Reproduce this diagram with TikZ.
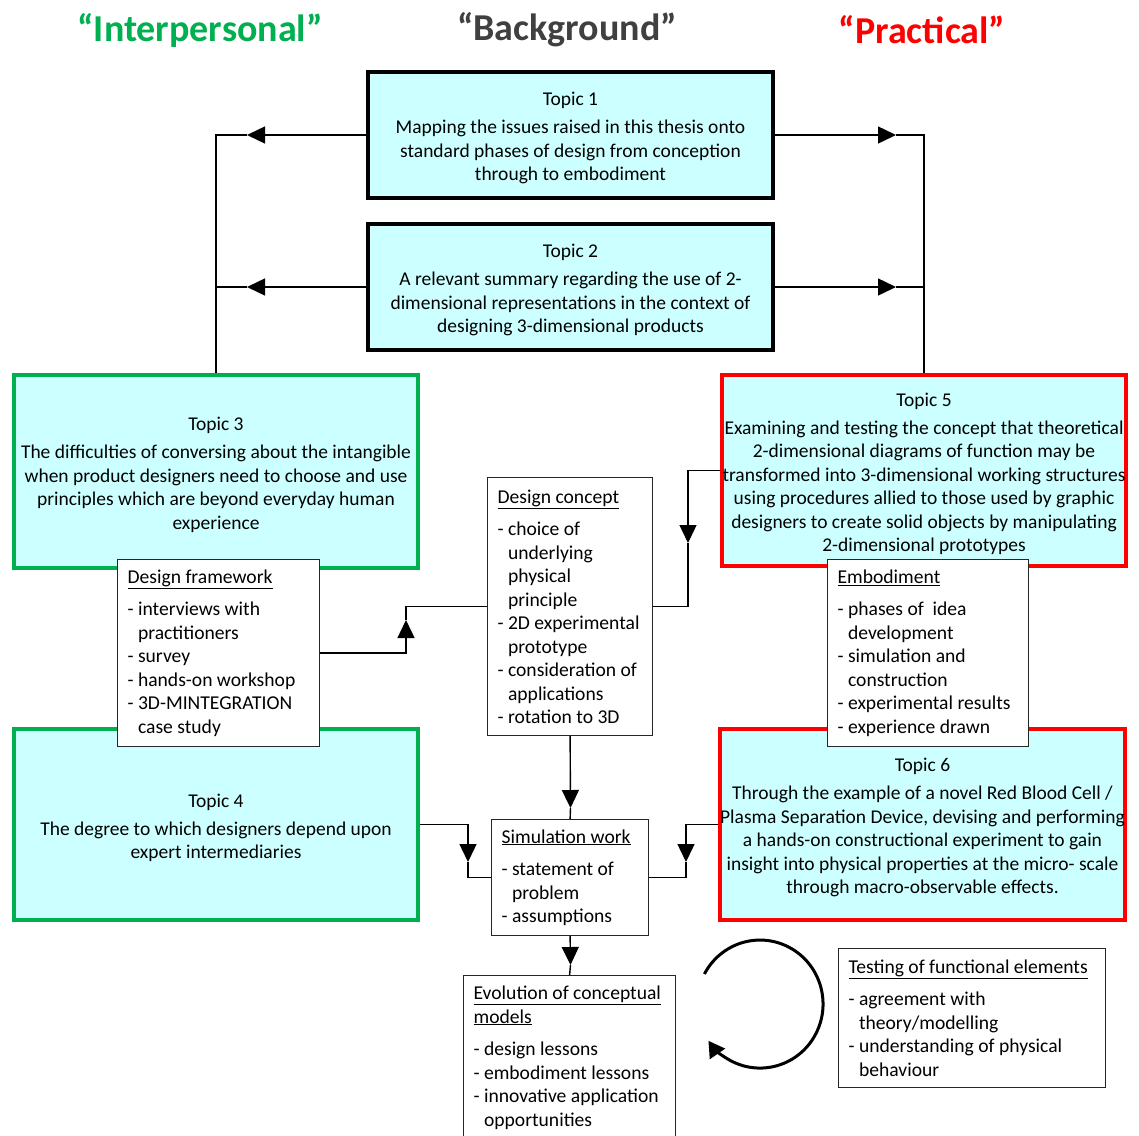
\documentclass[tikz,border=0pt]{standalone}
\usepackage{fontspec}
\setmainfont{Carlito}
\usetikzlibrary{arrows.meta}
\definecolor{topicfill}{RGB}{204,255,255}
\definecolor{igreen}{RGB}{0,176,80}
\definecolor{pred}{RGB}{255,0,0}
\definecolor{bgray}{RGB}{64,64,64}
\newcommand\ind{\hphantom{-\ }}
\newcommand\tstrut{\rule{0pt}{20pt}}
\begin{document}
\begin{tikzpicture}[x=1pt,y=-1pt,
  topic/.style={draw, line width=4pt, fill=topicfill, align=center, inner sep=0pt,
    font=\fontsize{19.5}{23.5}\selectfont},
  note/.style={draw=black!85, line width=1.2pt, fill=white, align=flush left, anchor=north west,
    inner xsep=10pt, inner ysep=0pt, text width=#1,
    font=\fontsize{19.6}{23.5}\selectfont},
  link/.style={line width=1.4pt},
  arr/.style={link, -{Triangle[length=18pt,width=17pt]}},
  heading/.style={font=\fontsize{38}{44}\selectfont\bfseries}
]
\useasboundingbox (0,0) rectangle (1139,1135);

% column headings
\node[heading, text=igreen] (hi) at (200,30) {“Interpersonal”};
\node[heading, text=bgray]  (hb) at (567,30) {“Background”};
\node[heading, text=pred]   (hp) at (922,30) {“Practical”};

% topic boxes
\node[topic, minimum width=405pt, minimum height=126pt] (t1) at (570.5,135)
  {\tstrut Topic 1\\[4.5pt]Mapping the issues raised in this thesis onto\\standard phases of design from conception\\through to embodiment};
\node[topic, minimum width=405pt, minimum height=126pt] (t2) at (570.5,287)
  {\tstrut Topic 2\\[4.5pt]A relevant summary regarding the use of 2-\\dimensional representations in the context of\\designing 3-dimensional products};
\node[topic, draw=igreen, minimum width=404pt, minimum height=193pt] (t3) at (216,471.5)
  {\tstrut Topic 3\\[4.5pt]The difficulties of conversing about the intangible\\when product designers need to choose and use\\principles which are beyond everyday human\\experience};
\node[topic, draw=igreen, minimum width=404pt, minimum height=191pt] (t4) at (216,824.5)
  {\tstrut Topic 4\\[4.5pt]The degree to which designers depend upon\\expert intermediaries};
\node[topic, draw=pred, minimum width=404pt, minimum height=191pt] (t5) at (924,470.5)
  {\tstrut Topic 5\\[4.5pt]Examining and testing the concept that theoretical\\2-dimensional diagrams of function may be\\transformed into 3-dimensional working structures\\using procedures allied to those used by graphic\\designers to create solid objects by manipulating\\2-dimensional prototypes};
\node[topic, draw=pred, minimum width=405pt, minimum height=191pt] (t6) at (922.5,824.5)
  {\tstrut Topic 6\\[4.5pt]Through the example of a novel Red Blood Cell /\\Plasma Separation Device, devising and performing\\a hands-on constructional experiment to gain\\insight into physical properties at the micro- scale\\through macro-observable effects.};

% work-package notes
\node[note=182pt, minimum height=187pt] (fw) at (117,559)
  {\underline{Design framework}\\[9pt]- interviews with\\\ind practitioners\\- survey\\- hands-on workshop\\- 3D-MINTEGRATION\\\ind case study};
\node[note=145pt, minimum height=258pt] (dc) at (487,477)
  {\underline{Design concept}\\[9pt]- choice of\\\ind underlying\\\ind physical\\\ind principle\\- 2D experimental\\\ind prototype\\- consideration of\\\ind applications\\- rotation to 3D};
\node[note=181pt, minimum height=187pt] (em) at (827,559)
  {\underline{Embodiment}\\[9pt]- phases of \ idea\\\ind development\\- simulation and\\\ind construction\\- experimental results\\- experience drawn};
\node[note=137pt, minimum height=116pt] (sim) at (491,819)
  {\underline{Simulation work}\\[9pt]- statement of\\\ind problem\\- assumptions};
\node[note=192pt, minimum height=164pt] (evo) at (463,975)
  {\underline{Evolution of conceptual}\\\underline{models}\\[9pt]- design lessons\\- embodiment lessons\\- innovative application\\\ind opportunities};
\node[note=247pt, minimum height=139pt] (tst) at (838,948)
  {\underline{Testing of functional elements}\\[9pt]- agreement with\\\ind theory/modelling\\- understanding of physical\\\ind behaviour};

% arrow tips placed part-way along the connectors
\coordinate (h1) at (247,135);
\coordinate (h2) at (247,287);
\coordinate (h3) at (896,135);
\coordinate (h4) at (896,287);
\coordinate (h5) at (406,620);
\coordinate (h6) at (688,543);
\coordinate (h7) at (570.5,808);
\coordinate (h8) at (468,862);
\coordinate (h9) at (686,862);
\coordinate (h10) at (570.5,965);

% background topics feed the two outer columns
\draw[arr] (t1.west) -- (h1);
\draw[link] (h1) -- (h1 -| t3.north) -- (t3.north);
\draw[arr] (t2.west) -- (h2);
\draw[link] (h2) -- (h2 -| t3.north);
\draw[arr] (t1.east) -- (h3);
\draw[link] (h3) -- (h3 -| t5.north) -- (t5.north);
\draw[arr] (t2.east) -- (h4);
\draw[link] (h4) -- (h4 -| t5.north);

% flow through the central work packages
\draw[arr] (fw.east) -| (h5);
\draw[link] (h5) |- (dc.west);
\draw[arr] (t5.west) -| (h6);
\draw[link] (h6) |- (dc.east);
\draw[arr] (dc.south) -- (h7);
\draw[link] (h7) -- (sim.north);
\draw[arr] (t4.east) -| (h8);
\draw[link] (h8) |- (sim.west);
\draw[arr] (t6.west) -| (h9);
\draw[link] (h9) |- (sim.east);
\draw[arr] (sim.south) -- (h10);
\draw[link] (h10) -- (evo.north);

% iteration loop between models and testing
\coordinate (loopstart) at (704.4,974);
\begin{scope}[y=1pt]
\draw[line width=3pt, -{Triangle[length=16pt,width=18pt]}]
  (loopstart) arc[start angle=152, end angle=-145, x radius=63pt, y radius=64pt];
\end{scope}
\end{tikzpicture}
\end{document}
